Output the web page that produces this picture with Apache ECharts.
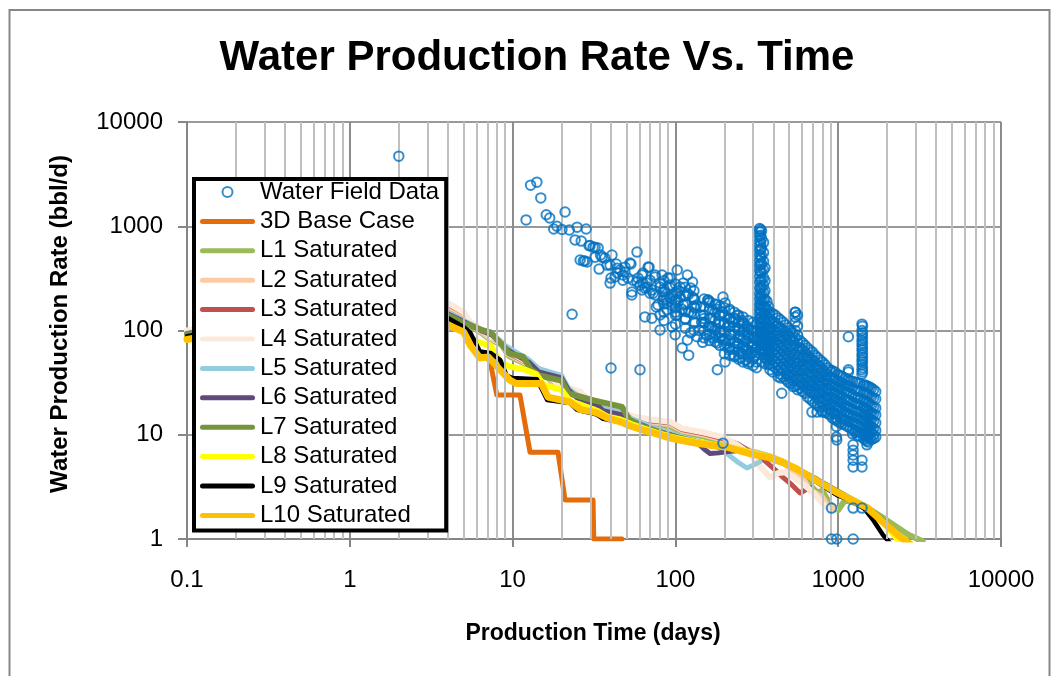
<!DOCTYPE html>
<html><head><meta charset="utf-8">
<script src="https://cdn.jsdelivr.net/npm/echarts@6/dist/echarts.min.js"></script>
<style>html,body{margin:0;padding:0;background:#fff}#c{width:1055px;height:676px}</style>
</head><body><div id="c"></div>
<script>
// ---------- DATA ----------
const xTickLabels = ['0.1', '1', '10', '100', '1000', '10000'];
const yTickLabels = ['1', '10', '100', '1000', '10000'];
const minorGridDays = [0.2,0.3,0.4,0.5,0.6,0.7,0.8,0.9, 2,3,4,5,6,7,8,9, 20,30,40,50,60,70,80,90, 200,300,400,500,600,700,800,900, 2000,3000,4000,5000,6000,7000,8000,9000];

const seriesNames = ['Water Field Data', '3D Base Case', 'L1 Saturated', 'L2 Saturated', 'L3 Saturated', 'L4 Saturated', 'L5 Saturated', 'L6 Saturated', 'L7 Saturated', 'L8 Saturated', 'L9 Saturated', 'L10 Saturated'];

// Water field data: scattered points [days, bbl/d]
const fieldEarly = [[2.0,4700],[12.9,2480],[14.1,2650],[14.9,1870],[12.1,1150],[16.1,1290],[16.9,1200],[21.0,1370],[18.7,1000],[17.9,940],[20.1,930],[22.3,920],[24.9,980],[28.3,940],[24.2,740],[26.4,720],[29.5,650],[31.2,630],[33.5,620],[27.2,464],[28.7,455],[32.1,505],[34.0,388],[35.4,505],[36.9,495],[40.8,530],[39.7,424],[43.3,434],[45.7,380],[43.9,356],[40.2,318],[49.0,405],[53.3,434],[58.1,565],[47.6,341],[51.1,318],[54.0,234],[58.1,292],[63.2,356],[68.9,405],[67.0,285],[71.8,244],[75.0,341],[82.8,341],[92.7,318],[102.6,380],[118.5,341],[127.5,292],[124,255],[111.8,285],[92.7,255],[84.0,234],[80.5,285],[75.0,219],[69.8,228],[65.0,255],[60.6,272],[96.9,219],[107,209],[99.7,188],[88.9,184],[78.2,176],[158,196],[177,176],[196,209],[202,184],[143,168],[23.2,143],[40.2,43.7],[60.6,42]];
const fieldMid = [[29.9,653],[32.1,630],[27.8,464],[26,475],[34.7,530],[38,424],[43.9,396],[49,363],[52.6,444],[39.7,285],[42.6,326],[47.6,304],[54.8,304],[59,318],[62.4,341],[68,406],[63.2,285],[69.8,304],[75,326],[90,318],[54,219],[62.4,245],[67,261],[72.9,228],[80.5,261],[86.4,234],[92.7,273],[102.6,228],[107,261],[118.5,228],[127.5,209],[84,196],[92.7,205],[104,188],[111.8,176],[76.3,168],[88.9,158],[80.5,141],[65,135],[71.8,131],[102.6,141],[120.6,150],[132,164],[143,141],[159,196],[170,158],[187,141],[217,131],[240,141],[262,118],[292,101],[306,87],[132,118],[152,118],[167,108],[124,95],[136,87],[147,77],[80.5,101],[95.5,108],[99.7,91],[110,68],[120.6,58],[118.5,81],[181,76],[196,81],[213,65],[230,58],[252,61],[271,65],[283,50],[306,56],[339,50],[202,50],[181,42],[196,8.3],[150,130],[160,110],[175,100],[190,95],[210,110],[230,100],[250,90],[270,80],[280,95],[300,75],[140,100],[155,90],[165,130],[185,120],[200,115],[220,90],[240,75],[260,70],[275,110],[290,60],[225,120],[245,105],[265,100],[285,85],[295,70],[310,65],[180,160],[195,150],[215,160],[235,130],[255,125],[170,85],[205,75],[215,68],[235,70],[250,55],[270,52],[125,150],[135,175],[145,120],[115,130],[110,160],[100,150],[95,175],[130,200],[120,220],[105,240],[88,200],[160,185]];
// dense part of the field data, as [days, [rates...]] columns
const fieldCols = [
  [85,[300,250,210,180,150,125]],[100,[280,230,195,165,140,115]],[115,[260,215,180,152,128,105]],[130,[240,200,170,145,120,100]],
  [150,[200,170,140,120,100,85]],[162,[190,160,130,110,92,80]],[175,[180,150,125,105,90,78]],[187,[170,140,115,97,85,72]],
  [200,[165,140,118,98,84,72,60]],[215,[155,130,110,92,80,68,58]],[230,[150,128,108,92,78,66,56]],[245,[140,120,100,86,74,63,53]],
  [260,[135,115,97,82,70,60,50]],[280,[125,105,90,76,65,56,48]],[300,[120,100,85,72,62,53,46]],[315,[115,95,80,68,58,50,44]],
  [329,[950,880,800,720,650,590,530,470,420,375,330,290,255,225,200,178,160,145,130,118]],
  [334,[930,820,690,600,500,430,360,300,250,210,180,155,135,120,105,95,85,75,66]],
  [338,[900,760,620,520,440,370,310,265,225,195,170,150,132,116,104,92,82,72,64]],
  [348,[700,560,460,380,320,270,230,196,168,146,128,112,98,86,76,67,59]],
  [355,[400,300,240,200,170,145,125,108,94,82,72,63,55,48]],
  [365,[190,160,135,115,100,88,78,68,60,52]],[373,[170,145,122,104,90,80,70,62,54,47]],
  [381,[150,128,110,95,84,74,64,56,48,42]],[396,[145,122,104,90,79,70,61,53,46,40]],
  [411,[140,118,100,88,76,66,58,50,44]],[427,[132,110,95,82,71,62,54,47,41,36]],
  [443,[126,105,90,78,68,59,51,44,38,35]],[460,[120,100,86,74,64,55,48,42,36]],
  [477,[113,96,82,70,60,52,45,39,34]],[493,[106,90,76,66,57,49,43,37,32]],
  [510,[100,85,72,62,53,46,40,35,31]],[527,[95,80,68,58,50,43,37,33,29]],
  [545,[150,135,120,100,85,72,60,52,45,39,34,29]],[563,[140,110,90,76,64,55,48,41,35,30,27]],
  [583,[80,68,58,50,43,37,32,28]],[604,[76,65,55,47,41,35,30,26]],
  [626,[72,62,53,45,39,34,29,25]],[648,[68,58,50,43,37,32,27,23]],
  [671,[65,55,47,40,35,30,26,22]],[695,[62,52,45,38,33,29,25,21]],
  [720,[58,50,43,37,32,28,24,20]],[746,[55,47,41,35,30,26,22,19]],
  [773,[52,45,39,33,29,25,21,18.5]],[800,[50,42,36,31,27,23,20,17]],
  [830,[47,40,34,30,26,22,19,16.5]],[860,[44,38,33,28,24,21,18,16]],
  [890,[42,36,31,27,23,20,17.5,15.5]],[920,[41,35,30,26,22.5,19.5,16.5,14.5]],
  [955,[40,34,29,25,22,19,16,14]],[990,[38,33,28.5,24.5,21,18.5,15.5,13.5]],
  [1026,[37,32,28,24,21,18,15.5,13]],[1060,[36,31,27,23,20,17,14.5,12.7]],
  [1100,[35,30,26,22,19,16.5,14,12.4]],[1140,[34,29.5,25.5,21.5,18.5,16,13.5,12]],
  [1180,[33,29,25,21,18,15.5,13.5,11.6]],[1225,[32.5,28,24,20.5,17.5,15,13,11.3,10.2]],
  [1270,[32,27,23,20,17,15,13,11,10.5]],[1315,[31.5,26.5,22.5,19.5,16.8,14.5,12.5,10.8,9.8]],
  [1360,[31,26,22,19,16.5,14,12,10.5,9.7]],
  [1400,[115,100,90,80,72,65,58,52,47,42,38]],[1410,[110,95,85,76,68,61,55,50,44,40]],
  [1430,[30,25.5,21.5,18.5,15.8,13.8,11.8,10.2,9.2]],[1460,[30,25,21,18,15.5,13.5,11.5,10,9]],
  [1495,[29.5,24.5,20.5,17.5,15,13,11.2,9.7,8.7]],[1530,[29,24,20,17,14.5,12.5,11,9.5,8.5]],
  [1565,[28.5,23.5,19.5,16.5,14.2,12.2,10.7,9.2]],[1600,[28,23,19,16,14,12,10.5,9]],
  [1650,[27,22.5,18.5,15.8,13.5,11.5,10,9.2]],[1700,[26,22,18,15.5,13,11,9.5]]
];
const fieldLow = [[910,1],[980,1],[1235,1],[910,1.98],[1235,1.98],[1400,1.98],[1235,8.0],[1235,7.1],[1235,6.4],[1235,5.7],[1235,4.9],[1400,5.7],[1400,4.9],[1500,8.0],[980,14],[975,12.0],[975,9.5],[980,8.9],[450,25],[690,16.5],[741,16.5],[800,16.5],[1155,87],[900,40],[1155,42],[1155,40],[545,150]];

const base3D = [[0.1,85],[0.3,115],[1,165],[2,185],[3,160],[4,113],[5,97],[5.5,72],[6.3,54.5],[7.0,55],[7.3,48.8],[8.0,24.1],[11.1,24],[12.8,6.8],[19,6.8],[21,2.37],[31.2,2.37],[31.5,1.0],[47,1.0]];
const l1Sat = [[0.1,95],[0.3,129],[1,187],[2,214],[3,195],[4,165],[5,138],[5.5,110],[6.5,94],[7.3,82],[8.5,74],[9.5,57],[12.3,47],[14,41],[16,37],[19,28],[22.5,26],[26,23.5],[30,19.5],[47.6,15.5],[55,13.8],[70,12.8],[93,12],[110,10.6],[150,9.6],[196,8.6],[240,7.8],[287,7.0],[381,6.2],[458,5.5],[583,4.3],[671,3.3],[741,2.8],[800,2.9],[900,2.1],[1000,1.9],[1100,2.35],[1300,2.2],[1503,2.0],[1884,1.6],[2300,1.3],[2700,1.1],[3300,0.95]];
const l2Sat = [[0.1,97],[0.3,131],[1,190],[2,218],[3,200],[4,172],[5,144],[5.5,115],[6.5,96],[7.3,84],[8.5,76],[9.5,59],[12.3,48],[14,42],[16,38],[19,29],[22.5,27],[26,24.5],[30,20],[47.6,16],[55,14.2],[70,13.3],[93,12.6],[110,11],[150,10],[196,9],[240,8],[287,7],[330,6.5],[381,6.2],[458,5.5],[520,4.6],[558,4.4],[620,3.6],[671,2.95],[740,2.7],[800,2.5],[854,2.1],[955,1.95]];
const l3Sat = [[0.1,98],[0.3,133],[1,192],[2,222],[3,205],[4,178],[5,148],[5.5,118],[6.5,98],[7.3,86],[8.5,78],[9.5,60],[12.3,49],[14,43],[16,39],[19,29.5],[22.5,27.5],[26,25],[30,20.5],[47.6,16.2],[55,14.5],[70,13.6],[93,13],[110,11.2],[150,10.2],[196,9.2],[240,8.2],[287,6.9],[330,6.1],[365,5.4],[410,4.6],[458,3.9],[520,3.3],[583,2.76],[640,3.0],[680,3.1]];
const l4Sat = [[0.1,100],[0.3,135],[1,195],[2,225],[3,210],[4,184],[5,150],[5.5,121],[6.5,100],[7.3,87],[8.5,80],[9.5,62],[12.3,50],[14,44],[16,40],[19,30],[22.5,28],[26,26],[30,21],[47.6,16.5],[55,15],[70,14],[93,13.3],[110,11.5],[150,10.5],[196,9.5],[240,8],[287,6.5],[330,5],[381,3.9],[430,4.3],[480,4.4],[560,3.7],[620,3.3],[700,2.8],[780,2.3],[850,2.0]];
const l5Sat = [[0.1,94],[0.3,128],[1,184],[2,208],[3,185],[4,150],[5,125],[6.6,100],[7.5,93],[9,72],[10.5,62],[12.5,53],[14.5,43],[20,37],[22,28],[25,24],[33,21],[36,18],[47,16.5],[54,14.2],[63,13],[75,11.5],[93,10.5],[110,9.6],[136,8.7],[175,7.9],[207,6.6],[240,5.5],[275,4.8],[300,5.1],[330,5.5]];
const l6Sat = [[0.1,93],[0.3,127],[1,182],[2,205],[3,180],[4,145],[5,122],[6.6,98],[7.5,90],[9,68],[10.5,58],[12.5,50],[14.5,40],[20,35],[22,27],[25,22.5],[33,19.5],[36,17],[47,15.5],[54,13.5],[63,12.3],[75,11],[93,10],[110,9.3],[136,8.4],[150,7.3],[163,6.6],[185,6.7],[210,6.9],[230,7.0]];
const l7Sat = [[0.1,92],[0.3,125],[1,180],[2,200],[3,178],[4,140],[5,118],[6.6,100],[7.3,96],[8.5,75],[9.6,60],[11.6,56],[13,42],[14.6,37],[20,33],[22,25],[31,21.5],[47,18.5],[52,14],[63,12],[93,9.8],[136,8.5],[207,7.6],[287,6.8],[381,6.1],[458,5.5],[741,3.7],[1155,2.5],[1503,2.0],[1884,1.5],[2300,1.05],[2600,0.9]];
const l8Sat = [[0.1,86],[0.3,118],[1,170],[2,190],[3,165],[4,125],[5,100],[5.5,85],[6.3,76],[7.3,72],[8.4,50],[9.6,45],[12,42],[14,38],[15.5,30],[20,27],[22.5,21],[26,19.5],[33,17],[38,15],[46,14],[54,12.6],[63,11.6],[75,10.6],[93,9.6],[136,8.5],[207,7.7],[287,6.8],[381,6.1],[458,5.5],[741,3.6],[1155,2.45],[1503,1.98],[1884,1.45],[2300,1.0],[2600,0.9]];
const l9Sat = [[0.1,88],[0.3,120],[1,175],[2,195],[3,170],[4,132],[5,108],[5.5,95],[6.3,63],[7.3,61],[8.4,52],[9.2,37],[10,35],[14.1,34],[16.3,21.5],[22.5,20.2],[24.9,17.3],[33,15.6],[36,14.2],[46,13.2],[52,12],[63,11.3],[75,10.2],[93,9.5],[110,8.8],[136,8.3],[165,7.8],[207,7.4],[250,6.9],[287,6.6],[330,6.2],[381,5.9],[458,5.3],[558,4.6],[741,3.5],[1000,2.6],[1155,2.4],[1450,1.95],[1650,1.5],[1880,1.1],[2100,0.9]];
const l10Sat = [[0.1,82],[0.3,112],[1,165],[2,185],[3,160],[4,113],[5,97],[5.5,72],[6.3,54.5],[7.1,55.7],[8.4,41.8],[9.6,33.5],[10.5,31],[15,31],[16.5,23],[22.5,20.6],[26,17.5],[33,16.2],[38,14.5],[46,13.3],[54,12],[63,11.1],[75,10.3],[93,9.3],[110,8.8],[136,8.3],[170,7.9],[207,7.6],[287,6.6],[381,6.0],[458,5.4],[558,4.7],[741,3.6],[1000,2.75],[1155,2.45],[1503,2.0],[1884,1.45],[2398,1.05],[2762,0.9]];

// ---------- STYLE ----------
const lineSeriesData = [base3D, l1Sat, l2Sat, l3Sat, l4Sat, l5Sat, l6Sat, l7Sat, l8Sat, l9Sat, l10Sat];
const lineColors = ['#E46C0A', '#9BBB59', '#FBCBA6', '#C0504D', '#FDE9D9', '#93CDDD', '#604A7B', '#77933C', '#FFFF00', '#000000', '#FFC000'];
const lineWidths = [5, 6, 6, 5, 6, 5, 5, 6, 6, 4.5, 7];
const FONT = "'Liberation Sans', Arial, sans-serif";
const BAR_ICON = 'path://M2.5,0 L52.5,0 A2.5,2.5 0 0 1 52.5,5 L2.5,5 A2.5,2.5 0 0 1 2.5,0 Z';

const fieldPoints = fieldEarly.concat(fieldMid, fieldLow);
fieldCols.forEach(([d, rates]) => rates.forEach(r => fieldPoints.push([d, r])));

const chart = echarts.init(document.getElementById('c'), null, { renderer: 'canvas' });

const series = [];
series.push({
  name: '__minor', type: 'line', data: [], silent: true, z: 1,
  markLine: {
    silent: true, symbol: ['none', 'none'], label: { show: false }, animation: false,
    lineStyle: { color: '#BFBFBF', width: 2, type: 'solid' },
    data: minorGridDays.map(v => ({ xAxis: v }))
  }
});
lineSeriesData.forEach((d, i) => {
  series.push({
    name: seriesNames[i + 1], type: 'line', data: d, showSymbol: false, symbol: 'none',
    z: 2 + i * 0.01, clip: true,
    lineStyle: { color: lineColors[i], width: lineWidths[i], join: 'round', cap: 'round' },
    itemStyle: { color: lineColors[i] }
  });
});
series.push({
  name: seriesNames[0], type: 'scatter', data: fieldPoints, z: 5,
  symbol: 'circle', symbolSize: 9.5,
  itemStyle: { color: 'rgba(0,0,0,0)', borderColor: '#0070C0', borderWidth: 2 }
});

const legendData = seriesNames.map((n, i) => i === 0 ? { name: n } : { name: n, icon: BAR_ICON });

chart.setOption({
  animation: false,
  backgroundColor: '#fff',
  grid: { left: 187, top: 122, right: 54, bottom: 137, containLabel: false },
  xAxis: {
    type: 'log', logBase: 10, min: 0.1, max: 10000,
    axisLine: { show: true, lineStyle: { color: '#868686', width: 2 } },
    axisTick: { show: true, length: 8, lineStyle: { color: '#868686', width: 2 } },
    axisLabel: { fontSize: 24, color: '#000', fontFamily: FONT, margin: 29,
      formatter: v => xTickLabels[Math.round(Math.log10(v)) + 1] },
    splitLine: { show: true, lineStyle: { color: '#8C8C8C', width: 2 } },
    minorTick: { show: false }, minorSplitLine: { show: false }
  },
  yAxis: {
    type: 'log', logBase: 10, min: 1, max: 10000,
    axisLine: { show: true, lineStyle: { color: '#868686', width: 2 } },
    axisTick: { show: true, length: 9, lineStyle: { color: '#868686', width: 2 } },
    axisLabel: { fontSize: 24, color: '#000', fontFamily: FONT, margin: 24,
      formatter: v => yTickLabels[Math.round(Math.log10(v))] },
    splitLine: { show: true, lineStyle: { color: '#999999', width: 2 } }
  },
  legend: {
    orient: 'vertical', left: 194, top: 179,
    data: legendData,
    itemWidth: 55, itemHeight: 10, itemGap: 5.4,
    padding: [1, 7, 3, 6],
    backgroundColor: '#fff', borderColor: '#000', borderWidth: 4,
    textStyle: { fontSize: 24, color: '#000', fontFamily: FONT },
    selectedMode: false, z: 10
  },
  graphic: [
    { type: 'rect', silent: true, z: 100, shape: { x: 9.5, y: 10, width: 1040, height: 700 },
      style: { fill: 'none', stroke: '#878787', lineWidth: 2 } },
    { type: 'text', silent: true, z: 100, x: 537, y: 58.5,
      style: { text: 'Water Production Rate Vs. Time', font: "bold 42px 'Liberation Sans', Arial, sans-serif", fill: '#000', align: 'center', verticalAlign: 'middle' } },
    { type: 'text', silent: true, z: 100, x: 593, y: 634,
      style: { text: 'Production Time (days)', font: "bold 23px 'Liberation Sans', Arial, sans-serif", fill: '#000', align: 'center', verticalAlign: 'middle' } },
    { type: 'text', silent: true, z: 100, x: 60, y: 324, rotation: Math.PI / 2,
      style: { text: 'Water Production Rate (bbl/d)', font: "bold 24px 'Liberation Sans', Arial, sans-serif", fill: '#000', align: 'center', verticalAlign: 'middle' } }
  ],
  series: series
});
</script></body></html>
